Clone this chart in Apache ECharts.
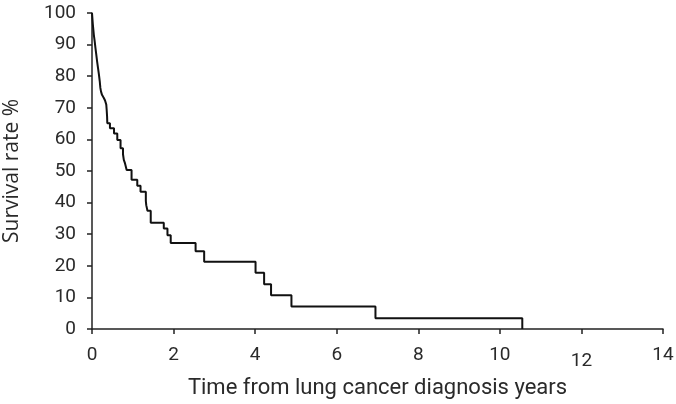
<!DOCTYPE html>
<html>
<head>
<meta charset="utf-8">
<script src="https://cdn.jsdelivr.net/npm/echarts@6/dist/echarts.min.js"></script>
<style>html,body{margin:0;padding:0;background:#fff}#c{width:676px;height:404px}</style>
</head>
<body>
<div id="c"></div>
<script>
// Kaplan-Meier step curve: time (years) of each step, survival (%) after that step
const times = [0, 0.02, 0.045, 0.066, 0.085, 0.105, 0.125, 0.147, 0.17, 0.19, 0.205, 0.22, 0.245, 0.29, 0.32, 0.35, 0.36, 0.37, 0.375, 0.44, 0.54, 0.62, 0.70, 0.76, 0.78, 0.81, 0.85, 0.97, 1.11, 1.19, 1.32, 1.33, 1.36, 1.44, 1.76, 1.85, 1.93, 2.54, 2.75, 4.01, 4.22, 4.39, 4.89, 6.95, 10.55];
const survival = [100, 96.5, 93.1, 91.0, 88.9, 86.8, 84.7, 82.6, 80.5, 78.4, 76.3, 75.2, 74.1, 73.1, 72.3, 71.0, 69.3, 67.2, 65.1, 63.5, 61.9, 59.8, 57.2, 55.3, 53.5, 52.4, 50.3, 47.2, 45.3, 43.4, 40.5, 39.2, 37.4, 33.6, 31.8, 29.7, 27.2, 24.6, 21.3, 17.8, 14.2, 10.7, 7.1, 3.4, 0];
const xTicks = [0, 2, 4, 6, 8, 10, 12, 14];
const yTicks = [0, 10, 20, 30, 40, 50, 60, 70, 80, 90, 100];

const txt = '#2a2a2a';
const font = 'Roboto';
const chart = echarts.init(document.getElementById('c'));
chart.setOption({
  animation: false,
  grid: { left: 92, right: 13, top: 13, bottom: 75, containLabel: false, outerBoundsMode: 'none' },
  xAxis: {
    type: 'value', min: xTicks[0], max: xTicks[xTicks.length - 1], interval: 2,
    name: 'Time from lung cancer diagnosis years', nameLocation: 'middle', nameGap: 48,
    nameMoveOverlap: false,
    nameTextStyle: { color: txt, fontSize: 22, fontFamily: font },
    axisLine: { lineStyle: { color: '#222', width: 1.5 } },
    axisTick: { show: true, length: 5, lineStyle: { color: '#222', width: 1.5 } },
    splitLine: { show: false },
    axisLabel: {
      color: txt, fontSize: 19, fontFamily: font, margin: 17, showMaxLabel: true,
      formatter: v => v === 12 ? '{low|12}' : String(v),
      rich: { low: { color: txt, fontSize: 19, fontFamily: font, padding: [6, 0, 0, 0] } }
    }
  },
  yAxis: {
    type: 'value', min: yTicks[0], max: yTicks[yTicks.length - 1], interval: 10,
    name: 'Survival rate %', nameLocation: 'middle', nameGap: 69,
    nameMoveOverlap: false,
    nameTextStyle: { color: txt, fontSize: 21, fontFamily: 'Open Sans' },
    axisLine: { show: true, lineStyle: { color: '#222', width: 1.5 } },
    axisTick: { show: true, length: 5, lineStyle: { color: '#222', width: 1.5 } },
    splitLine: { show: false },
    axisLabel: { color: txt, fontSize: 19, fontFamily: font, margin: 16 }
  },
  series: [{
    type: 'line', step: 'end', symbol: 'none',
    data: times.map((t, i) => [t, survival[i]]),
    lineStyle: { color: '#111', width: 2 }
  }]
});
</script>
</body>
</html>
